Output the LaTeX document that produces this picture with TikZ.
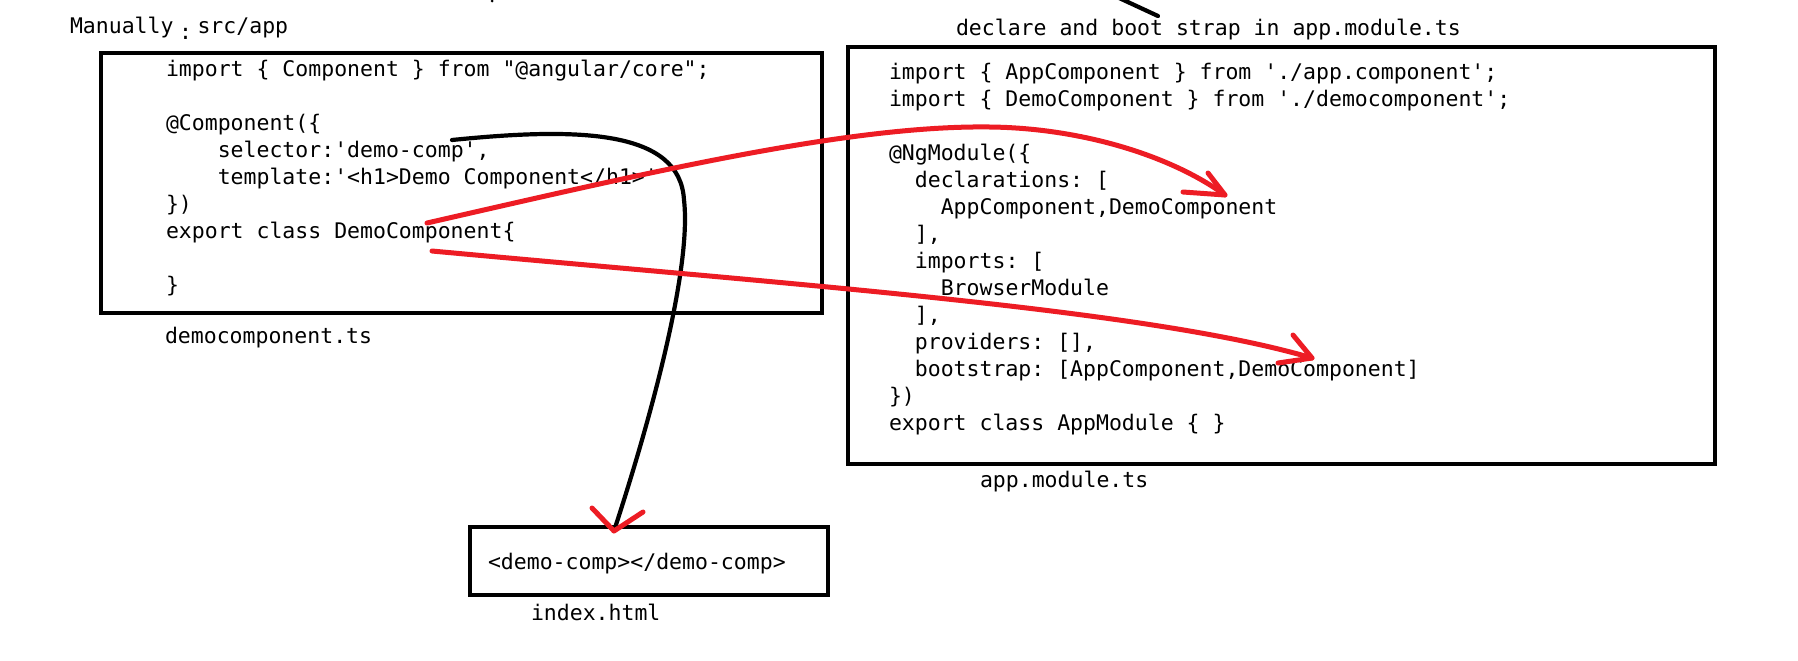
\documentclass[tikz,border=0pt]{standalone}
\usepackage{fontspec}
\setmonofont{DejaVu Sans Mono}
\newcommand\codesize{\fontsize{10.75pt}{13.5pt}\selectfont}
\definecolor{pen}{RGB}{237,28,36}
\begin{document}
\begin{tikzpicture}[x=0.5pt,y=-0.5pt,
  code/.style={font=\codesize\ttfamily, anchor=base west, inner sep=0pt, outer sep=0pt},
  box/.style={draw=black, line width=2.3pt, inner sep=0pt, fill=none},
  redpen/.style={draw=pen, line width=2.5pt, line cap=round, line join=round},
  blackpen/.style={draw=black, line width=2.1pt, line cap=round, line join=round}]
\fill[white] (0,0) rectangle (1798,660);
\useasboundingbox (0,0) rectangle (1798,660);

% boxes
\node[box, minimum width=360.5pt, minimum height=130pt] (demobox) at (461.5,183) {};
\node[box, minimum width=433.5pt, minimum height=208.5pt] (appbox) at (1281.5,255.5) {};
\node[box, minimum width=179pt, minimum height=34pt] (idxbox) at (649,561) {};

% labels
\node[code] (manual) at (70,33) {Manually\makebox[12pt]{\raisebox{-3pt}{:}}src/app};
\node[code] (decl) at (956,35) {declare and boot strap in app.module.ts};
\node[code] (demots) at (165,343) {democomponent.ts};
\node[code] (appts) at (980,487) {app.module.ts};
\node[code] (idxtxt) at (488,569) {<demo-comp></demo-comp>};
\node[code] (idxlbl) at (531,620) {index.html};

% democomponent.ts code
\node[code] (L1) at (166,76) {import \{ Component \} from "@angular/core";};
\node[code] (L2) at (166,130) {@Component(\{};
\node[code] (L3) at (166,157) {\phantom{0000}selector:'demo-comp',};
\node[code] (L4) at (166,184) {\phantom{0000}template:'<h1>Demo Component</h1>'};
\node[code] (L5) at (166,211) {\})};
\node[code] (L6) at (166,238) {export class DemoComponent\{};
\node[code] (L7) at (166,292) {\}};

% app.module.ts code
\node[code] (R1) at (889,79) {import \{ AppComponent \} from './app.component';};
\node[code] (R2) at (889,106) {import \{ DemoComponent \} from './democomponent';};
\node[code] (R3) at (889,160) {@NgModule(\{};
\node[code] (R4) at (889,187) {\phantom{00}declarations: [};
\node[code] (R5) at (889,214) {\phantom{0000}AppComponent,DemoComponent};
\node[code] (R6) at (889,241) {\phantom{00}],};
\node[code] (R7) at (889,268) {\phantom{00}imports: [};
\node[code] (R8) at (889,295) {\phantom{0000}BrowserModule};
\node[code] (R9) at (889,322) {\phantom{00}],};
\node[code] (R10) at (889,349) {\phantom{00}providers: [],};
\node[code] (R11) at (889,376) {\phantom{00}bootstrap: [AppComponent,DemoComponent]};
\node[code] (R12) at (889,403) {\})};
\node[code] (R13) at (889,430) {export class AppModule \{ \}};

% connector end points
\coordinate (b0) at (452,140);
\coordinate (b1) at (614,531);
\coordinate (r1s) at (427,223);
\coordinate (r1e) at (1225,195);
\coordinate (r2s) at (432,251);
\coordinate (r2e) at (1312,358);
\coordinate (t0) at (1117,-3);
\coordinate (t1) at (1158,16);

% stray strokes at top
\draw[blackpen] (t0) -- (t1);
\fill[black] (492,1) circle (1.5);

% black curve selector -> index.html
\draw[blackpen] (b0) .. controls (580,127) and (680,130) .. (684,200)
  .. controls (691,260) and (660,390) .. (b1);
\draw[redpen] (592,508) -- (b1) -- (643,512);

% red arrows
\draw[redpen] (r1s) .. controls (650,172) and (850,125) .. (990,127)
  .. controls (1080,128) and (1170,155) .. (r1e);
\draw[redpen] (1208,173) -- (r1e) -- (1183,192);
\draw[redpen] (r2s) .. controls (800,285) and (1150,310) .. (r2e);
\draw[redpen] (1293,335) -- (r2e) -- (1278,363);
\end{tikzpicture}
\end{document}
